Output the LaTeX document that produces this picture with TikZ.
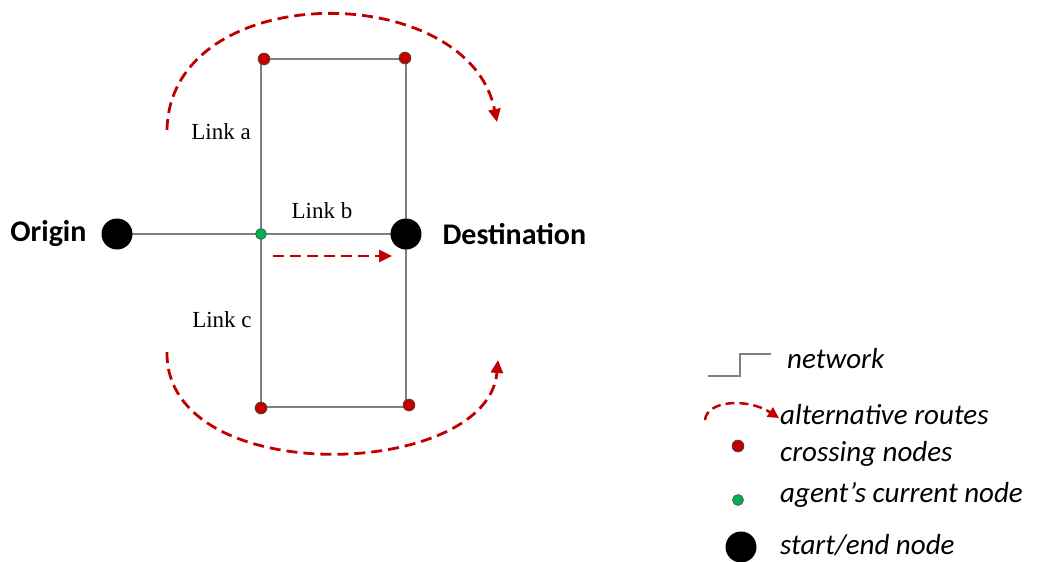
\documentclass[tikz,border=0pt]{standalone}
\usepackage{fontspec}
\newfontfamily\calfont{Carlito}
\newfontfamily\linkfont{Liberation Serif}
\usetikzlibrary{arrows.meta}
\definecolor{routered}{HTML}{C00000}
\definecolor{linkgray}{HTML}{7F7F7F}
\definecolor{agentgreen}{HTML}{00B050}
\tikzset{
  net/.style={draw=linkgray,line width=1.6pt},
  endnode/.style={circle,fill=black,inner sep=0pt,minimum size=31pt},
  crossnode/.style={circle,fill=routered,draw=black!70,line width=0.6pt,inner sep=0pt,minimum size=12pt},
  agentnode/.style={circle,fill=agentgreen,draw=black!70,line width=0.6pt,inner sep=0pt,minimum size=11pt},
  route/.style={draw=routered,line width=2.8pt,dash pattern=on 11pt off 6pt,-{Triangle[length=13pt,width=12pt]}},
  linklabel/.style={font=\linkfont\fontsize{23}{26}\selectfont},
  placelabel/.style={font=\calfont\bfseries\fontsize{30}{34}\selectfont},
  legendtext/.style={anchor=west,font=\calfont\itshape\fontsize{29}{32}\selectfont,inner sep=0pt}
}
\begin{document}
\begin{tikzpicture}[x=1pt,y=-1pt]
\useasboundingbox (0,0) rectangle (1042,562);

% network links
\coordinate (or) at (117,234);
\coordinate (ag) at (261,234);
\coordinate (de) at (406,234);
\draw[net] (or) -- (ag) -- (de);
\draw[net] (261,59) -- (406,59) -- (406,407) -- (261,407) -- cycle;

% start/end nodes
\node[endnode] (origin) at (or) {};
\node[endnode] (dest) at (de) {};
\node[placelabel,anchor=east] (origintext) at (90,234) {Origin};
\node[placelabel,anchor=west] (desttext) at (439,234) {Destination};

% crossing nodes and agent
\node[crossnode] (ctl) at (264,59) {};
\node[crossnode] (ctr) at (405,58) {};
\node[crossnode] (cbl) at (261,408) {};
\node[crossnode] (cbr) at (409,405) {};
\node[agentnode] (agent) at (ag) {};

% link labels
\node[linklabel] (linka) at (221,132) {Link a};
\node[linklabel] (linkb) at (322,211) {Link b};
\node[linklabel] (linkc) at (222,320) {Link c};

% routes
\coordinate (sa) at (167,130);
\coordinate (ea) at (497,122);
\draw[route] (sa) .. controls (170,-22) and (468,-22) .. (ea);
\coordinate (sc) at (167,352);
\coordinate (ec) at (498,360);
\draw[route] (sc) .. controls (165,490) and (488,480) .. (ec);
\coordinate (sb) at (273,256);
\coordinate (eb) at (392,256);
\draw[route] (sb) -- (eb);

% legend
\coordinate (n1) at (708,376);
\coordinate (n2) at (771,354);
\draw[draw=linkgray,line width=1.3pt] (n1) -- (740,376) -- (740,354) -- (n2);
\node[legendtext] (lnet) at (787,359) {network};

\coordinate (r1) at (705,420);
\coordinate (r2) at (779,418);
\draw[draw=routered,line width=2.5pt,dash pattern=on 9pt off 5pt,-{Triangle[length=11pt,width=11pt]}]
  (r1) .. controls (707,400) and (748,398) .. (r2);
\node[legendtext] (lalt) at (780,415) {alternative routes};

\node[crossnode] (lcross) at (738,446) {};
\node[legendtext] (lcrosst) at (780,454) {crossing nodes};

\node[agentnode] (lagent) at (738,500) {};
\node[legendtext] (lagentt) at (780,495) {agent’s current node};

\node[endnode] (lend) at (741,547) {};
\node[legendtext] (lendt) at (780,545) {start/end node};
\end{tikzpicture}
\end{document}
